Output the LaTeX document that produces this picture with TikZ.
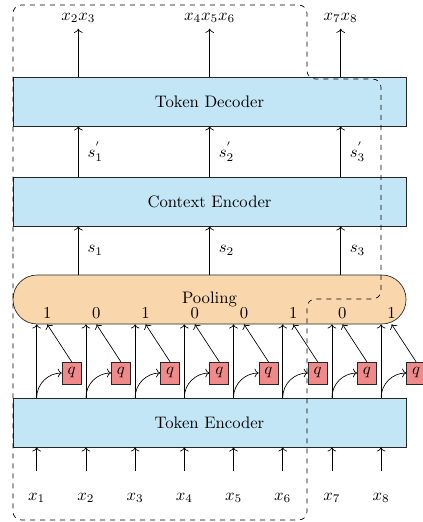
\documentclass[tikz,border=0pt]{standalone}
\usepackage{amsmath}
\usetikzlibrary{arrows.meta}
\definecolor{encblue}{RGB}{194,230,245}
\definecolor{poolorange}{RGB}{249,214,172}
\definecolor{qred}{RGB}{240,138,138}

\begin{document}
\begin{tikzpicture}[
	x=0.6pt, y=-0.6pt,
	box/.style={draw=black!85, fill=encblue, minimum width=235.8pt, minimum height=29.4pt, inner sep=0pt},
	poolbox/.style={draw=black!85, fill=poolorange, rounded corners=14.5pt, minimum width=235.8pt, minimum height=29.4pt, inner sep=0pt},
	qbox/.style={draw=black!85, fill=qred, minimum width=11.4pt, minimum height=13pt, inner sep=0pt},
	arr/.style={->}
]
\useasboundingbox (0,0) rectangle (422,522);

% 四个模块
\node[box] (dec) at (209.5,101.5) {Token Decoder};
\node[box] (ctx) at (209.5,201.5) {Context Encoder};
\node[poolbox] (pool) at (209.5,299.5) {Pooling};
\node[box] (enc) at (209.5,422.5) {Token Encoder};

% 输入、边界判别与池化
\foreach \b [count=\i] in {1,0,1,0,0,1,0,1} {
	\pgfmathsetmacro{\cx}{36.7+49.2*(\i-1)}
	\node (x\i) at (\cx,498) {$x_\i$};
	\node[qbox] (q\i) at (\cx+35,373) {$q$};
	\node (b\i) at (\cx+10.5,313) {\b};
	\draw[arr, shorten <=9.5pt] (x\i) -- (x\i |- enc.south);
	\draw[arr] (x\i |- enc.north) -- (x\i |- pool.south);
	\draw[arr] (x\i |- enc.north) to[out=90, in=180] (q\i.west);
	\draw[arr] (q\i.north) -- (b\i |- pool.south);
}

% 输出
\node (o1) at (78.3,18) {$x_2x_3$};
\node (o2) at (209.7,18) {$x_4x_5x_6$};
\node (o3) at (340.7,18) {$x_7x_8$};

\foreach \i in {1,2,3} {
	\draw[arr] (o\i |- pool.north) -- (o\i |- ctx.south) node[midway, right=2pt] {$s_\i$};
	\draw[arr] (o\i |- ctx.north) -- (o\i |- dec.south) node[midway, right=2pt] {$s^{'}_\i$};
	\draw[arr] (o\i |- dec.north) -- (o\i);
}

% 虚线框
\draw[dashed, rounded corners=5pt] (13,260) -- (13,5) -- (307,5) -- (307,79) -- (381,79) -- (381,299) -- (307,299) -- (307,520) -- (13,520) -- cycle;
\end{tikzpicture}
\end{document}
